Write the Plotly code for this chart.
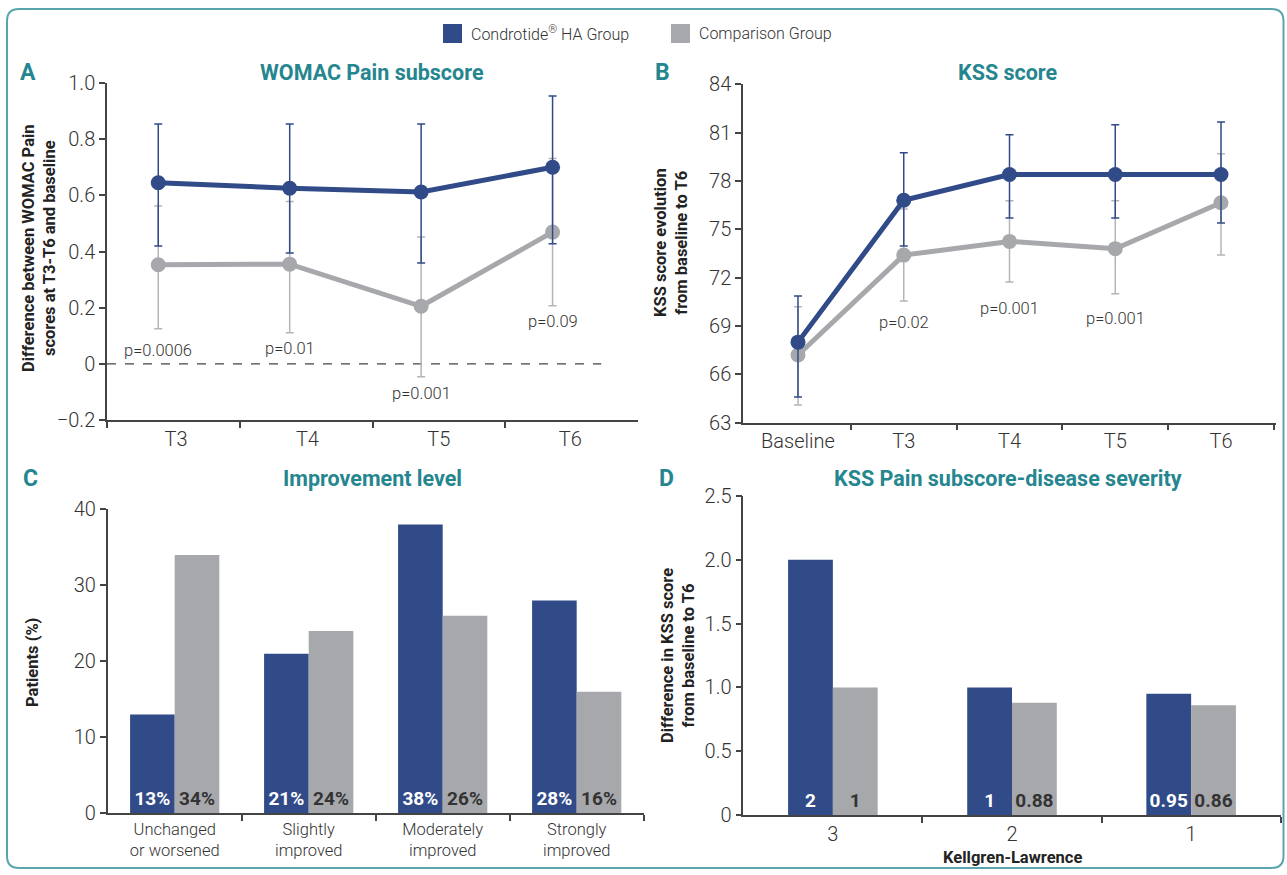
import plotly.graph_objects as go

W, H = 1287, 875

BLUE = "#314b88"
GREY = "#a7a8ac"
GREY_ERR = "#b5b5b7"
TEAL = "#25868f"
INK = "#333333"
AXIS = "#444444"

TEXT_FAMILY = "Roboto, 'Open Sans', sans-serif"
BOLD_FAMILY = "Roboto, 'Open Sans', sans-serif"

# ---- Panel A: WOMAC Pain subscore, change from baseline ----
womac_times = ["T3", "T4", "T5", "T6"]
womac_ha = [0.645, 0.625, 0.612, 0.700]
womac_ha_hi = [0.854, 0.854, 0.854, 0.954]
womac_ha_lo = [0.420, 0.395, 0.359, 0.428]
womac_cmp = [0.353, 0.355, 0.205, 0.469]
womac_cmp_hi = [0.562, 0.578, 0.452, 0.731]
womac_cmp_lo = [0.125, 0.111, -0.046, 0.207]
womac_p = ["p=0.0006", "p=0.01", "p=0.001", "p=0.09"]
womac_p_y = [0.046, 0.053, -0.107, 0.150]

# ---- Panel B: KSS score over time ----
kss_times = ["Baseline", "T3", "T4", "T5", "T6"]
kss_ha = [68.0, 76.8, 78.4, 78.4, 78.4]
kss_ha_hi = [70.86, 79.75, 80.87, 81.49, 81.66]
kss_ha_lo = [64.60, 73.96, 75.70, 75.70, 75.39]
kss_cmp = [67.2, 73.4, 74.25, 73.8, 76.65]
kss_cmp_hi = [70.20, 76.26, 76.77, 76.77, 79.69]
kss_cmp_lo = [64.10, 70.55, 71.73, 71.00, 73.40]
kss_p = ["p=0.02", "p=0.001", "p=0.001"]
kss_p_idx = [1, 2, 3]
kss_p_y = [69.2, 70.07, 69.45]

# ---- Panel C: improvement level ----
improve_levels = ["Unchanged<br>or worsened", "Slightly<br>improved",
                  "Moderately<br>improved", "Strongly<br>improved"]
improve_ha = [13, 21, 38, 28]
improve_cmp = [34, 24, 26, 16]

# ---- Panel D: KSS pain subscore by Kellgren-Lawrence grade ----
kl_grades = ["3", "2", "1"]
kl_ha = [2, 1, 0.95]
kl_cmp = [1, 0.88, 0.86]


def px(x):
    return x / W


def py(y):
    return 1 - y / H


tick_font = dict(family=TEXT_FAMILY, size=20, color=INK, weight=300)

fig = go.Figure()


def err(vals, hi, lo):
    return dict(type="data", symmetric=False,
                array=[h - v for v, h in zip(vals, hi)],
                arrayminus=[v - l for v, l in zip(vals, lo)])


def line_trace(xs, ys, hi, lo, color, err_color, xa, ya):
    return go.Scatter(
        x=xs, y=ys, mode="lines+markers",
        line=dict(color=color, width=5), marker=dict(color=color, size=15),
        error_y=dict(**err(ys, hi, lo), color=err_color, thickness=1.5, width=4),
        xaxis=xa, yaxis=ya, showlegend=False, cliponaxis=False)


# Panel A lines
fig.add_trace(line_trace(list(range(len(womac_times))), womac_cmp, womac_cmp_hi, womac_cmp_lo,
                         GREY, GREY_ERR, "x", "y"))
fig.add_trace(line_trace(list(range(len(womac_times))), womac_ha, womac_ha_hi, womac_ha_lo,
                         BLUE, BLUE, "x", "y"))

# Panel B lines
fig.add_trace(line_trace(list(range(len(kss_times))), kss_cmp, kss_cmp_hi, kss_cmp_lo,
                         GREY, GREY_ERR, "x2", "y2"))
fig.add_trace(line_trace(list(range(len(kss_times))), kss_ha, kss_ha_hi, kss_ha_lo,
                         BLUE, BLUE, "x2", "y2"))

bar_text_font = dict(family=BOLD_FAMILY, size=19, weight="bold")


def bar_trace(ys, labels, width, offset, color, text_color, xa, ya):
    return go.Bar(
        x=list(range(len(ys))), y=ys, width=width, offset=offset,
        marker=dict(color=color, line=dict(width=0)),
        text=labels, texttemplate="%{text}", textposition="inside",
        insidetextanchor="start", textangle=0, constraintext="none",
        textfont=dict(**bar_text_font, color=text_color),
        xaxis=xa, yaxis=ya, showlegend=False)


# Panel C bars
fig.add_trace(bar_trace(improve_ha, [f"{v:g}%" for v in improve_ha], 0.333, -0.333,
                        BLUE, "white", "x3", "y3"))
fig.add_trace(bar_trace(improve_cmp, [f"{v:g}%" for v in improve_cmp], 0.333, 0,
                        GREY, INK, "x3", "y3"))

# Panel D bars
fig.add_trace(bar_trace(kl_ha, [f"{v:g}" for v in kl_ha], 0.25, -0.25,
                        BLUE, "white", "x4", "y4"))
fig.add_trace(bar_trace(kl_cmp, [f"{v:g}" for v in kl_cmp], 0.25, 0,
                        GREY, INK, "x4", "y4"))


def fmt(v, decimals):
    if v == 0:
        return "0"
    return f"{v:.{decimals}f}".replace("-", "\u2212")


def base_axis(**kw):
    d = dict(showline=True, linecolor=AXIS, linewidth=1.5, ticks="outside",
             ticklen=6, tickwidth=1.5, tickcolor=AXIS, showgrid=False,
             zeroline=False, tickfont=tick_font, fixedrange=True, automargin=False)
    d.update(kw)
    return d


def category_axis(centers, labels, bounds, **kw):
    # labels sit at the category centres, tick marks on the category boundaries
    return base_axis(tickmode="array", tickvals=centers, ticktext=labels, ticks="",
                     minor=dict(tickmode="array", tickvals=bounds, ticks="outside",
                                ticklen=6, tickwidth=1.5, tickcolor=AXIS),
                     **kw)


a_y_vals = [-0.2, 0, 0.2, 0.4, 0.6, 0.8, 1.0]
b_y_vals = list(range(63, 85, 3))
c_y_vals = [0, 10, 20, 30, 40]
d_y_vals = [0, 0.5, 1.0, 1.5, 2.0, 2.5]

fig.update_layout(
    width=W, height=H, margin=dict(l=0, r=0, t=0, b=0, pad=0, autoexpand=False),
    paper_bgcolor="white", plot_bgcolor="white", barmode="overlay",
    xaxis=category_axis([i + 0.135 for i in range(len(womac_times))], womac_times,
                        [-0.39, 0.62, 1.63, 2.64],
                        domain=[px(107), px(638)], range=[-0.39, 3.65], anchor="y"),
    yaxis=base_axis(domain=[py(420), py(83)], range=[-0.2, 1.0],
                    tickmode="array", tickvals=a_y_vals,
                    ticktext=[fmt(v, 1) for v in a_y_vals], anchor="x"),
    xaxis2=category_axis(list(range(len(kss_times))), kss_times,
                         [i + 0.5 for i in range(len(kss_times))],
                         domain=[px(743), px(1276)], range=[-0.52, 4.52], anchor="y2"),
    yaxis2=base_axis(domain=[py(422.7), py(84.3)], range=[63, 84],
                     tickmode="array", tickvals=b_y_vals,
                     ticktext=[str(v) for v in b_y_vals], anchor="x2"),
    xaxis3=category_axis(list(range(len(improve_levels))), improve_levels,
                         [0.5, 1.5, 2.5, 3.5],
                         domain=[px(107.7), px(643.7)], range=[-0.5, 3.5], anchor="y3",
                         tickfont=dict(family=TEXT_FAMILY, size=16.5, color=INK, weight=300)),
    yaxis3=base_axis(domain=[py(813.3), py(509.3)], range=[0, 40],
                     tickmode="array", tickvals=c_y_vals,
                     ticktext=[str(v) for v in c_y_vals], anchor="x3"),
    xaxis4=category_axis(list(range(len(kl_grades))), kl_grades, [0.5, 1.5, 2.5],
                         domain=[px(743.3), px(1280.7)], range=[-0.5, 2.5], anchor="y4"),
    yaxis4=base_axis(domain=[py(815), py(496)], range=[0, 2.5],
                     tickmode="array", tickvals=d_y_vals,
                     ticktext=[fmt(v, 1) for v in d_y_vals], anchor="x4"),
)

# zero reference line in panel A
fig.add_shape(type="line", xref="x", yref="y", x0=-0.39, x1=3.37, y0=0, y1=0,
              line=dict(color=AXIS, width=1.2, dash="dash"), layer="below")

# rounded frame around the whole figure
L, R, T, B, r = 7, 1283.5, 9, 868, 12
path = (f"M {px(L + r)},{py(T)} L {px(R - r)},{py(T)} "
        f"Q {px(R)},{py(T)} {px(R)},{py(T + r)} L {px(R)},{py(B - r)} "
        f"Q {px(R)},{py(B)} {px(R - r)},{py(B)} L {px(L + r)},{py(B)} "
        f"Q {px(L)},{py(B)} {px(L)},{py(B - r)} L {px(L)},{py(T + r)} "
        f"Q {px(L)},{py(T)} {px(L + r)},{py(T)} Z")
fig.add_shape(type="path", xref="paper", yref="paper", path=path,
              line=dict(color="#5aa5ad", width=2), fillcolor="rgba(0,0,0,0)")

# legend swatches
fig.add_shape(type="rect", xref="paper", yref="paper",
              x0=px(443), x1=px(462), y0=py(43), y1=py(24),
              fillcolor=BLUE, line=dict(width=0))
fig.add_shape(type="rect", xref="paper", yref="paper",
              x0=px(671), x1=px(690), y0=py(43), y1=py(24),
              fillcolor=GREY, line=dict(width=0))

annotations = []


def paper_text(x, y, text, font, xanchor="center", yanchor="middle", **kw):
    annotations.append(dict(x=px(x), y=py(y), xref="paper", yref="paper", text=text,
                            showarrow=False, font=font, xanchor=xanchor,
                            yanchor=yanchor, **kw))


legend_font = dict(family=TEXT_FAMILY, size=16, color=INK, weight=300)
paper_text(469, 34, "Condrotide<sup>®</sup> HA Group", legend_font, xanchor="left")
paper_text(697, 34, "Comparison Group", legend_font, xanchor="left")

letter_font = dict(family=BOLD_FAMILY, size=23, color=TEAL, weight="bold")
title_font = dict(family=BOLD_FAMILY, size=21.5, color=TEAL, weight="bold")
paper_text(28, 73, "A", letter_font)
paper_text(662, 73, "B", letter_font)
paper_text(30, 478, "C", letter_font)
paper_text(667, 478, "D", letter_font)
paper_text(372, 73, "WOMAC Pain subscore", title_font)
paper_text(1008, 73, "KSS score", title_font)
paper_text(372, 478, "Improvement level", title_font)
paper_text(1008, 478, "KSS Pain subscore-disease severity", title_font)

ytitle_font = dict(family=BOLD_FAMILY, size=16.5, color="#222222", weight="bold")
paper_text(39, 248, "Difference between WOMAC Pain<br>scores at T3-T6 and baseline",
           ytitle_font, textangle=-90)
paper_text(671, 243, "KSS score evolution<br>from baseline to T6", ytitle_font, textangle=-90)
paper_text(32, 663, "Patients (%)", ytitle_font, textangle=-90)
paper_text(678, 656, "Difference in KSS score<br>from baseline to T6", ytitle_font, textangle=-90)
paper_text(1012, 857, "Kellgren-Lawrence", ytitle_font)

p_font = dict(family=TEXT_FAMILY, size=16.5, color=INK, weight=300)
for i, (label, yv) in enumerate(zip(womac_p, womac_p_y)):
    annotations.append(dict(x=i, y=yv, xref="x", yref="y", text=label, showarrow=False,
                            font=p_font, xanchor="center", yanchor="middle"))
for idx, label, yv in zip(kss_p_idx, kss_p, kss_p_y):
    annotations.append(dict(x=idx, y=yv, xref="x2", yref="y2", text=label, showarrow=False,
                            font=p_font, xanchor="center", yanchor="middle"))

fig.update_layout(annotations=annotations)

fig.write_html("out.html")
